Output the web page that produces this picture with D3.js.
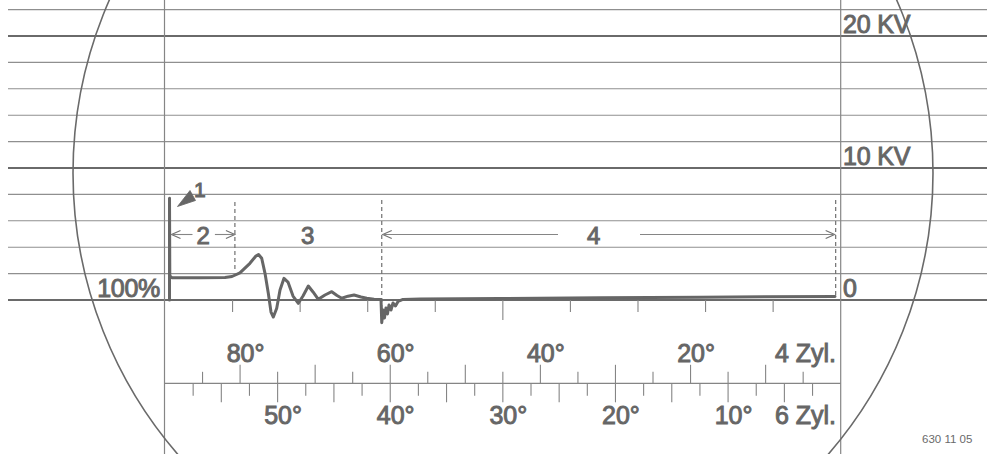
<!DOCTYPE html>
<html>
<head>
<meta charset="utf-8">
<script src="https://cdn.jsdelivr.net/npm/d3@7/dist/d3.min.js"></script>
<style>
  html, body { margin: 0; padding: 0; background: #fff; }
  svg { display: block; }
  text { font-family: "Liberation Sans", Arial, Helvetica, sans-serif; fill: #666; stroke: #666; stroke-width: 0.95px; }
  text.code { stroke-width: 0; fill: #6a6a6a; }
</style>
</head>
<body>
<script>
// ---------- data ----------
// grid levels in kV (every 2 kV), heavy lines and their labels
const gridKV = [0, 2, 4, 6, 8, 10, 12, 14, 16, 18, 20, 22];
const heavyKV = [0, 10, 20];
const kvLabels = ["0", "10 KV", "20 KV"];

// ignition voltage trace: crank angle (4-cylinder degrees) and voltage (kV)
const traceDeg = [89.40, 89.40, 89.36, 89.10, 85.34, 82.01, 81.08, 80.02, 78.69, 77.89, 77.54, 77.12,
  76.68, 76.24, 75.88, 75.57, 75.12, 74.68, 74.15, 73.62, 72.95, 72.24, 71.62, 70.91, 70.28, 69.58,
  68.69, 67.79, 67.09, 66.46, 65.62, 64.82, 63.89, 63.13, 62.16, 61.23, 61.13, 60.94, 60.77, 60.57,
  60.37, 60.16, 59.90, 59.63, 59.30, 58.96, 58.30, 56.03, 45.38, 32.06, 18.74, 0.76];
const traceKV = [0, 7.70, 1.82, 1.69, 1.69, 1.70, 1.78, 2.05, 2.78, 3.33, 3.45, 3.16,
  2.02, 0.51, -0.91, -1.29, -0.63, 0.76, 1.64, 1.36, 0.30, -0.25, 0.30, 1.06, 0.61, 0.05,
  0.38, 0.63, 0.34, 0.13, 0.29, 0.38, 0.23, 0.13, 0.05, 0.04, -1.72, -0.76, -1.36, -0.61,
  -1.06, -0.38, -0.76, -0.23, -0.45, -0.11, 0.04, 0.08, 0.11, 0.17, 0.21, 0.27];

// section boundaries (4-cyl degrees) and section labels
const sectionDeg = [89.40, 80.69, 61.13, 0.67];
const sectionLabels = ["2", "3", "4"];
const sectionLabelDeg = [84.9, 71.0, 32.9];

// angle scales
const upperTickLabels = [80, 60, 40, 20];          // 4 Zyl.
const lowerTickLabels = [50, 40, 30, 20, 10];      // 6 Zyl.
const baseTicks = [9, 18, 27, 36, 45, 54, 63, 72, 81];

// ---------- drawing ----------
const W = 987, H = 454;
const svg = d3.select("body").append("svg").attr("width", W).attr("height", H);
svg.append("rect").attr("width", W).attr("height", H).attr("fill", "#fff").attr("stroke", "none");

const x4 = d3.scaleLinear().domain([90, 0]).range([165, 840.7]);
const x6 = d3.scaleLinear().domain([60, 0]).range([165, 840.7]);
const y = d3.scaleLinear().domain([0, 20]).range([300, 36]);

// horizontal grid
svg.append("g").selectAll("line").data(gridKV).join("line")
  .attr("x1", 8).attr("x2", W)
  .attr("y1", d => y(d)).attr("y2", d => y(d))
  .attr("stroke", d => heavyKV.includes(d) ? "#6a6a6a" : "#8f8f8f")
  .attr("stroke-width", d => heavyKV.includes(d) ? 2 : 1.1);

// vertical frame lines
svg.append("g").selectAll("line").data([90, 0]).join("line")
  .attr("x1", d => x4(d) - (d === 90 ? 0.5 : 0)).attr("x2", d => x4(d) - (d === 90 ? 0.5 : 0))
  .attr("y1", 0).attr("y2", H)
  .attr("stroke", "#858585").attr("stroke-width", 1.2);

// screen circle
svg.append("circle").attr("cx", 503).attr("cy", 173).attr("r", 430)
  .attr("fill", "none").attr("stroke", "#6a6a6a").attr("stroke-width", 1.6);

// ticks below baseline
svg.append("g").selectAll("line").data(baseTicks).join("line")
  .attr("x1", d => x4(d)).attr("x2", d => x4(d))
  .attr("y1", y(0)).attr("y2", d => y(0) + (d === 45 ? 20 : 12))
  .attr("stroke", "#858585").attr("stroke-width", 1.1);

// dashed section boundaries
const dashTop = [null, 202, 200, 200];
const dashBottom = [null, 270, 323, 296];
svg.append("g").selectAll("line").data(sectionDeg.slice(1)).join("line")
  .attr("x1", d => x4(d)).attr("x2", d => x4(d))
  .attr("y1", (d, i) => dashTop[i + 1]).attr("y2", (d, i) => dashBottom[i + 1])
  .attr("stroke", "#707070").attr("stroke-width", 1.2).attr("stroke-dasharray", "4,3");

// trace
const pts = traceDeg.map((d, i) => [d, traceKV[i]]);
svg.append("path").datum(pts)
  .attr("d", d3.line().x(d => x4(d[0])).y(d => y(d[1])).curve(d3.curveLinear))
  .attr("fill", "none").attr("stroke", "#666").attr("stroke-width", 3)
  .attr("stroke-linejoin", "round").attr("stroke-linecap", "round");

// section arrows
const arrowY = 234.5;
function chevron(xTip, dir) {
  svg.append("path")
    .attr("d", `M${xTip - dir * 9},${arrowY - 4} L${xTip},${arrowY} L${xTip - dir * 9},${arrowY + 4}`)
    .attr("fill", "none").attr("stroke", "#707070").attr("stroke-width", 1.1);
}
function hline(xa, xb) {
  svg.append("line").attr("x1", xa).attr("x2", xb).attr("y1", arrowY).attr("y2", arrowY)
    .attr("stroke", "#858585").attr("stroke-width", 1.1);
}
{
  const a = x4(sectionDeg[0]) + 2, b = x4(sectionDeg[1]);
  chevron(a, -1); chevron(b, 1);
  hline(a, a + 21); hline(b - 20, b);
}
{
  const a = x4(sectionDeg[2]) + 1, b = x4(sectionDeg[3]) - 1;
  chevron(a, -1); chevron(b, 1);
  hline(a, 558); hline(640, b);
}
svg.append("g").selectAll("text").data(sectionLabels).join("text")
  .attr("x", (d, i) => x4(sectionLabelDeg[i])).attr("y", 243.5)
  .attr("text-anchor", "middle").attr("font-size", 24).text(d => d);

// marker 1
svg.append("polygon").attr("points", "177.5,206.5 190,190.5 195.5,200.5")
  .attr("fill", "#666").attr("stroke", "#666").attr("stroke-width", 0.8).attr("stroke-linejoin", "round");
svg.append("text").attr("x", 194).attr("y", 197).attr("font-size", 21).text("1");

// 100 %
svg.append("text").attr("x", 160).attr("y", 296.5).attr("text-anchor", "end")
  .attr("font-size", 25).attr("letter-spacing", -0.3).text("100%");

// kV labels
svg.append("g").selectAll("text").data(heavyKV).join("text")
  .attr("x", 843).attr("y", d => y(d) - 3)
  .attr("font-size", 25).attr("letter-spacing", -0.2).text((d, i) => kvLabels[i]);

// angle scale
const axisY = 383.3;
svg.append("line").attr("x1", x4(90) - 0.5).attr("x2", x4(0)).attr("y1", axisY).attr("y2", axisY)
  .attr("stroke", "#858585").attr("stroke-width", 1.2);
const upTicks = d3.range(5, 90, 5);
svg.append("g").selectAll("line").data(upTicks).join("line")
  .attr("x1", d => x4(d)).attr("x2", d => x4(d))
  .attr("y1", axisY).attr("y2", d => axisY - (d % 10 === 0 ? 18.5 : 11.5))
  .attr("stroke", "#858585").attr("stroke-width", 1.1);
const downTicks = d3.range(2.5, 60, 2.5);
svg.append("g").selectAll("line").data(downTicks).join("line")
  .attr("x1", d => x6(d)).attr("x2", d => x6(d))
  .attr("y1", axisY).attr("y2", d => axisY + (d % 5 === 0 ? 19 : 12.5))
  .attr("stroke", "#858585").attr("stroke-width", 1.1);

svg.append("g").selectAll("text").data(upperTickLabels).join("text")
  .attr("x", d => x4(d) + 5.5).attr("y", 362)
  .attr("text-anchor", "middle").attr("font-size", 25).text(d => d + "°");
svg.append("g").selectAll("text").data(lowerTickLabels).join("text")
  .attr("x", d => x6(d) + 5.5).attr("y", 424)
  .attr("text-anchor", "middle").attr("font-size", 25).text(d => d + "°");
svg.append("text").attr("x", 836).attr("y", 362).attr("text-anchor", "end")
  .attr("font-size", 25).text("4 Zyl.");
svg.append("text").attr("x", 836).attr("y", 424).attr("text-anchor", "end")
  .attr("font-size", 25).text("6 Zyl.");

// figure code
svg.append("text").attr("class", "code").attr("x", 922).attr("y", 443).attr("font-size", 11.5)
  .text("630 11 05");
</script>
</body>
</html>
